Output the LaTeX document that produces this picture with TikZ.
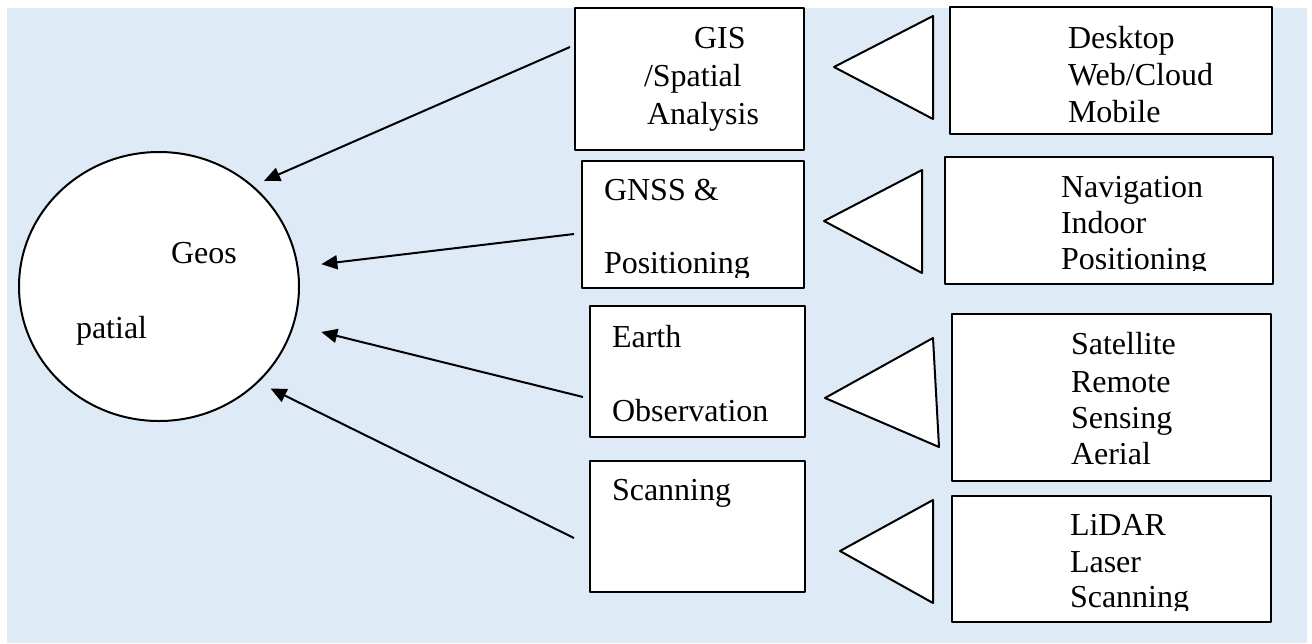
\documentclass[tikz,border=0pt]{standalone}
\usepackage{fontspec}
\setmainfont{Liberation Serif}
\usetikzlibrary{arrows.meta,fit,shapes.geometric}
\definecolor{bgblue}{HTML}{DEEAF6}

\begin{document}
\begin{tikzpicture}[x=.5pt,y=-.5pt,join=round,line width=1pt,
		box/.style={draw,fill=white,inner sep=0pt,fit={#1}},
		txt/.style={anchor=base west,inner sep=0pt,font=\fontsize{16}{18}\selectfont},
		link/.style={-{Triangle[length=8pt,width=7pt]}}]
		\useasboundingbox (0,0) rectangle (1312,643);
		\fill[bgblue] (7,8) rectangle (1307,643);
		\node[draw,ellipse,fill=white,inner sep=0pt,minimum width=140pt,minimum height=134.5pt] (geo) at (159,286.5) {};
		\foreach \n/\xa/\ya/\xb/\yb in {gis/575/8/804/150,gnss/582/161/804/288,eo/590/306/805/437,scan/590/461/805/592,
			desk/950/7/1272/134,nav/945/157/1273/284,sat/952/314/1271/481,lidar/952/496/1271/622}
			\node[box={(\xa,\ya) (\xb,\yb)}] (\n) {};
		\foreach \ax/\ay/\bx/\by/\cx/\cy in {834/67/933/16/933/119,824/221/922/170/922/273,825/398/933/338/939/447,840/551/933/500/933/603}
			\draw[fill=white] (\ax,\ay) -- (\bx,\by) -- (\cx,\cy) -- cycle;
		\foreach \n/\x/\y/\t in {geo1/170/263/Geos,geo2/75/338/patial,gis1/693/48/GIS,gis2/643/86/{/Spatial},gis3/646/124/Analysis,
			gnss1/603/200/{GNSS \&},eo1/611/347/Earth,eo2/611/421/Observation,scan1/611/500/Scanning,
			desk1/1067/48/Desktop,desk2/1067/85/{Web/Cloud},desk3/1067/122/Mobile,nav1/1060/197/Navigation,nav2/1060/233/Indoor,
			sat1/1070/354/Satellite,sat2/1070/392/Remote,sat3/1070/428/Sensing,sat4/1070/464/Aerial,lidar1/1069/535/LiDAR,lidar2/1069/572/Laser}
			\node[txt] (\n) at (\x,\y) {\t};
		\begin{scope}
			\clip (gnss.north west) rectangle ([yshift=6pt]gnss.south east);
			\node[txt] (gnss2) at (603,273) {Positioning};
		\end{scope}
		\begin{scope}
			\clip (nav.north west) rectangle ([yshift=7.5pt]nav.south east);
			\node[txt] (nav3) at (1060,269) {Positioning};
		\end{scope}
		\begin{scope}
			\clip (lidar.north west) rectangle ([yshift=6.5pt]lidar.south east);
			\node[txt] (lidar3) at (1069,607) {Scanning};
		\end{scope}
		\path
		(570,47) coordinate (s1)
		(574,234) coordinate (s2)
		(583,397) coordinate (s3)
		(574,538) coordinate (s4);
		\foreach \s/\g/\d in {s1/47/6,s2/8.5/11.5,s3/-16.6/14,s4/-44.7/6.7}
			\draw[link,shorten >=\d pt] (\s) -- (geo.\g);
	\end{tikzpicture}
\end{document}
